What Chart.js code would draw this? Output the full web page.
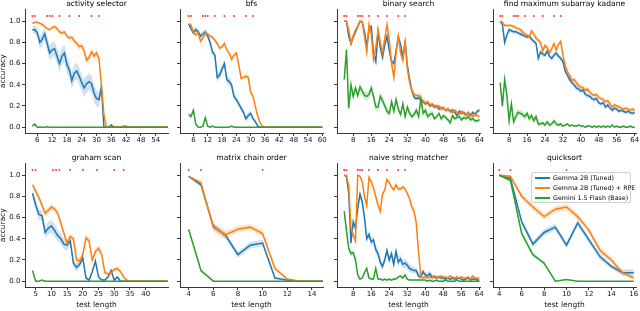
<!DOCTYPE html>
<html><head><meta charset="utf-8">
<script src="https://cdn.jsdelivr.net/npm/chart.js"></script>
<style>
html,body{margin:0;padding:0;background:#fff;}
body{width:640px;height:311px;overflow:hidden;position:relative;}
canvas{position:absolute;}
#legend{position:absolute;left:531px;top:172px;width:98px;height:29px;border:1px solid #d0d0d0;border-radius:2px;background:rgba(255,255,255,0.85);font-family:'DejaVu Sans',sans-serif;font-size:6.3px;color:#000;}
#legend .row{position:absolute;left:2px;height:8px;line-height:8px;white-space:nowrap;}
#legend .sw{position:absolute;left:1px;top:3px;width:15px;height:2px;}
#legend .tx{position:absolute;left:19px;top:0;}
</style></head>
<body>
<script>
// ---------- data ----------
const seriesLabels = ['Gemma 2B (Tuned)', 'Gemma 2B (Tuned) + RPE', 'Gemini 1.5 Flash (Base)'];
const yTicks = [0, 0.2, 0.4, 0.6, 0.8, 1.0];
const trainLengths = [4, 5, 10, 11, 12, 15, 19, 23, 28, 31];
const grahamMarks = [4, 5, 10.5, 11.5, 12.5, 16, 20, 24.5, 30, 33];
const shortMarks = [4, 5, 10];

// activity selector
const asLengths = [4,5,6,7,8,9,10,11,12,13,14,15,16,17,18,19,20,21,22,23,24,25,26,27,28,29,30,31,32,33,34,35,36,37,38,39,40,41,42,43,44,45,46,47,48,49,50,51,52,53,54,55,56,57,58,59];
const asTicks = [6,12,18,24,30,36,42,48,54];
const asBlue = [0.92,0.92,0.89,0.80,0.83,0.88,0.79,0.70,0.73,0.74, 0.67,0.60,0.67,0.70,0.59,0.54,0.44,0.51,0.53,0.48, 0.42,0.37,0.41,0.43,0.41,0.32,0.27,0.26,0.38,0.00, 0,0,0.02,0,0,0,0,0,0,0, 0,0,0,0,0,0,0,0,0,0, 0,0,0,0,0,0];
const asBlueErr = [0.03,0.04,0.05,0.06,0.06,0.06,0.07,0.07,0.07,0.07, 0.07,0.08,0.08,0.08,0.08,0.08,0.08,0.08,0.08,0.08, 0.08,0.08,0.08,0.08,0.08,0.08,0.08,0.07,0.07,0, 0,0,0.01,0,0,0,0,0,0,0, 0,0,0,0,0,0,0,0,0,0, 0,0,0,0,0,0];
const asOrange = [0.98,0.99,0.99,0.98,0.97,0.95,0.93,0.92,0.94,0.95, 0.93,0.90,0.89,0.90,0.86,0.84,0.85,0.81,0.79,0.76, 0.77,0.72,0.63,0.66,0.71,0.67,0.70,0.65,0.40,0.12, 0,0,0,0,0,0,0,0.01,0.01,0, 0,0,0,0,0,0,0,0,0,0, 0,0,0,0,0,0];
const asOrangeErr = [0.01,0.01,0.01,0.015,0.015,0.015,0.015,0.015,0.015,0.02, 0.02,0.02,0.02,0.02,0.02,0.02,0.02,0.03,0.03,0.03, 0.03,0.03,0.03,0.03,0.03,0.03,0.03,0.03,0.03,0.02, 0,0,0,0,0,0,0,0.01,0.01,0, 0,0,0,0,0,0,0,0,0,0, 0,0,0,0,0,0];
const asGreen = [0.01,0.03,0,0,0,0,0.005,0,0,0, 0,0,0,0,0,0,0,0,0,0, 0,0,0,0,0,0,0,0,0,0, 0,0,0,0,0,0,0,0,0,0, 0,0,0,0,0,0,0,0,0,0, 0,0,0,0,0,0];
const asGreenErr = [0.01,0.015,0.005,0,0,0,0,0,0,0, 0,0,0,0,0,0,0,0,0,0, 0,0,0,0,0,0,0,0,0,0, 0,0,0,0,0,0,0,0,0,0, 0,0,0,0,0,0,0,0,0,0, 0,0,0,0,0,0];

// bfs
const bfsLengths = [4,5,6,7,8,9,10,11,12,13,14,15,16,17,18,19,20,21,22,23,24,25,26,27,28,29,30,31,32,33,34,35,36,37,38,39,40,41,42,43,44,45,46,47,48,49,50,51,52,53,54,55,56,57,58,59,60];
const bfsTicks = [6,12,18,24,30,36,42,48,54,60];
const bfsBlue = [0.975,0.93,0.89,0.92,0.90,0.86,0.88,0.90,0.86,0.80, 0.71,0.68,0.47,0.49,0.55,0.60,0.45,0.43,0.40,0.29, 0.26,0.22,0.18,0.14,0.08,0.11,0.13,0.08,0.05,0.01, 0,0,0,0,0,0,0,0,0,0, 0,0,0,0,0,0,0,0,0,0, 0,0,0,0,0,0,0];
const bfsBlueErr = [0.01,0.02,0.03,0.03,0.03,0.03,0.03,0.03,0.03,0.03, 0.03,0.03,0.04,0.04,0.04,0.04,0.04,0.04,0.04,0.03, 0.03,0.03,0.03,0.03,0.03,0.03,0.03,0.02,0.02,0.01, 0,0,0,0,0,0,0,0,0,0, 0,0,0,0,0,0,0,0,0,0, 0,0,0,0,0,0,0];
const bfsOrange = [0.975,0.965,0.90,0.87,0.89,0.81,0.84,0.89,0.88,0.86, 0.85,0.82,0.79,0.745,0.76,0.79,0.73,0.70,0.64,0.68, 0.70,0.59,0.46,0.47,0.48,0.47,0.33,0.29,0.19,0.10, 0.04,0.01,0,0,0,0,0,0,0,0, 0,0,0,0,0,0,0,0,0,0, 0,0,0,0,0,0,0];
const bfsOrangeErr = [0.015,0.015,0.015,0.015,0.015,0.015,0.015,0.015,0.015,0.015, 0.02,0.02,0.02,0.02,0.02,0.02,0.02,0.02,0.02,0.02, 0.02,0.02,0.02,0.02,0.02,0.02,0.02,0.02,0.02,0.02, 0.01,0.01,0,0,0,0,0,0,0,0, 0,0,0,0,0,0,0,0,0,0, 0,0,0,0,0,0,0];
const bfsGreen = [0.12,0.10,0.16,0.03,0,0,0.01,0.09,0.01,0, 0.01,0,0,0,0,0,0,0,0.01,0, 0,0,0,0,0,0,0,0,0,0, 0,0,0,0,0,0,0,0,0,0, 0,0,0,0,0,0,0,0,0,0, 0,0,0,0,0,0,0];
const bfsGreenErr = [0.02,0.02,0.025,0.01,0,0,0.005,0.02,0.005,0, 0,0,0,0,0,0,0,0,0,0, 0,0,0,0,0,0,0,0,0,0, 0,0,0,0,0,0,0,0,0,0, 0,0,0,0,0,0,0,0,0,0, 0,0,0,0,0,0,0];

// shared lengths 4..64
const longLengths = [4,5,6,7,8,9,10,11,12,13,14,15,16,17,18,19,20,21,22,23,24,25,26,27,28,29,30,31,32,33,34,35,36,37,38,39,40,41,42,43,44,45,46,47,48,49,50,51,52,53,54,55,56,57,58,59,60,61,62,63,64];
const longTicks = [8,16,24,32,40,48,56,64];

// binary search
const bsBlue = [1.0,1.0,0.86,0.79,0.85,0.90,0.95,1.0,0.99,0.90, 0.76,0.93,0.95,0.70,0.62,0.90,0.75,0.66,0.78,0.86, 0.72,0.62,0.60,0.72,0.85,0.78,0.66,0.80,0.58,0.45, 0.34,0.28,0.27,0.28,0.25,0.24,0.22,0.23,0.20,0.21, 0.19,0.20,0.17,0.18,0.18,0.16,0.17,0.15,0.16,0.14, 0.11,0.15,0.13,0.14,0.12,0.13,0.11,0.14,0.12,0.15,0.16];
const bsBlueErr = [0.005,0.005,0.03,0.03,0.03,0.02,0.02,0.005,0.01,0.03, 0.03,0.03,0.02,0.03,0.03,0.03,0.03,0.03,0.03,0.03, 0.03,0.03,0.03,0.03,0.03,0.03,0.03,0.03,0.03,0.03, 0.03,0.02,0.02,0.02,0.02,0.02,0.02,0.02,0.02,0.02, 0.02,0.02,0.02,0.02,0.02,0.02,0.02,0.02,0.02,0.02, 0.02,0.02,0.02,0.02,0.02,0.02,0.02,0.02,0.02,0.02,0.02];
const bsOrange = [1.0,1.0,0.92,0.79,0.86,0.92,0.95,1.0,1.0,0.85, 0.71,0.97,0.88,0.64,0.75,0.92,0.80,0.70,0.84,0.97, 0.82,0.60,0.47,0.70,0.86,0.70,0.63,0.82,0.55,0.42, 0.35,0.31,0.30,0.30,0.26,0.25,0.23,0.24,0.21,0.22, 0.20,0.19,0.20,0.17,0.18,0.16,0.17,0.15,0.14,0.16, 0.14,0.12,0.15,0.13,0.11,0.14,0.12,0.10,0.12,0.11,0.10];
const bsOrangeErr = [0.005,0.005,0.02,0.03,0.03,0.02,0.02,0.005,0.005,0.03, 0.03,0.02,0.03,0.03,0.03,0.03,0.03,0.03,0.03,0.02, 0.03,0.03,0.03,0.03,0.03,0.03,0.03,0.03,0.03,0.03, 0.03,0.02,0.02,0.02,0.02,0.02,0.02,0.02,0.02,0.02, 0.02,0.02,0.02,0.02,0.02,0.02,0.02,0.02,0.02,0.02, 0.02,0.02,0.02,0.02,0.02,0.02,0.02,0.02,0.02,0.02,0.02];
const bsGreen = [0.45,0.73,0.18,0.40,0.29,0.37,0.30,0.38,0.34,0.30, 0.29,0.31,0.37,0.29,0.19,0.19,0.29,0.25,0.20,0.15, 0.13,0.24,0.15,0.26,0.17,0.12,0.22,0.10,0.19,0.13, 0.10,0.12,0.16,0.10,0.27,0.13,0.16,0.10,0.12,0.13, 0.08,0.10,0.13,0.08,0.11,0.09,0.07,0.04,0.11,0.08, 0.09,0.10,0.07,0.09,0.08,0.10,0.07,0.08,0.06,0.06,0.07];
const bsGreenErr = [0.04,0.05,0.04,0.04,0.04,0.04,0.04,0.04,0.04,0.04, 0.04,0.04,0.04,0.04,0.04,0.04,0.04,0.04,0.04,0.04, 0.03,0.03,0.03,0.03,0.03,0.03,0.03,0.03,0.03,0.03, 0.03,0.03,0.03,0.03,0.03,0.03,0.03,0.03,0.03,0.03, 0.02,0.02,0.02,0.02,0.02,0.02,0.02,0.02,0.02,0.02, 0.02,0.02,0.02,0.02,0.02,0.02,0.02,0.02,0.02,0.02,0.02];

// find maximum subarray kadane
const kdBlue = [1.0,0.97,0.80,0.87,0.92,0.91,0.90,0.90,0.89,0.88, 0.87,0.86,0.85,0.86,0.83,0.81,0.79,0.65,0.71,0.69, 0.68,0.72,0.67,0.65,0.68,0.70,0.67,0.65,0.62,0.53, 0.49,0.45,0.42,0.40,0.37,0.36,0.34,0.35,0.31,0.30, 0.29,0.27,0.26,0.27,0.23,0.22,0.23,0.19,0.21,0.18, 0.16,0.18,0.17,0.15,0.16,0.15,0.14,0.15,0.14,0.13,0.14];
const kdBlueErr = [0.005,0.01,0.03,0.02,0.02,0.02,0.02,0.02,0.02,0.02, 0.02,0.02,0.02,0.02,0.02,0.02,0.02,0.025,0.025,0.025, 0.025,0.025,0.025,0.025,0.025,0.025,0.025,0.025,0.025,0.025, 0.025,0.025,0.025,0.025,0.025,0.025,0.025,0.025,0.025,0.025, 0.02,0.02,0.02,0.02,0.02,0.02,0.02,0.02,0.02,0.02, 0.02,0.02,0.02,0.02,0.02,0.02,0.02,0.02,0.02,0.02,0.02];
const kdOrange = [1.0,0.99,0.96,0.96,0.96,0.96,0.95,0.94,0.93,0.92, 0.90,0.88,0.87,0.85,0.91,0.88,0.84,0.82,0.80,0.72, 0.77,0.75,0.70,0.74,0.79,0.73,0.78,0.81,0.68,0.58, 0.52,0.49,0.44,0.45,0.42,0.39,0.38,0.37,0.35,0.36, 0.33,0.31,0.30,0.31,0.28,0.27,0.26,0.24,0.25,0.22, 0.19,0.21,0.20,0.19,0.18,0.17,0.18,0.17,0.16,0.17,0.16];
const kdOrangeErr = [0.005,0.01,0.015,0.015,0.015,0.015,0.015,0.015,0.015,0.02, 0.02,0.02,0.02,0.02,0.02,0.02,0.025,0.025,0.025,0.025, 0.025,0.025,0.025,0.025,0.025,0.025,0.025,0.025,0.025,0.025, 0.025,0.025,0.025,0.025,0.025,0.025,0.025,0.025,0.025,0.025, 0.02,0.02,0.02,0.02,0.02,0.02,0.02,0.02,0.02,0.02, 0.02,0.02,0.02,0.02,0.02,0.02,0.02,0.02,0.02,0.02,0.02];
const kdGreen = [0.42,0.20,0.45,0.30,0.06,0.22,0.05,0.10,0.14,0.13, 0.12,0.10,0.13,0.08,0.11,0.06,0.10,0.03,0.03,0.04, 0.02,0.05,0.02,0.03,0.06,0.03,0.02,0.03,0.01,0.02, 0.03,0.01,0.02,0.01,0.01,0.02,0.01,0.01,0.00,0.01, 0.01,0.00,0.01,0.00,0.01,0.00,0.01,0.00,0.01,0.00, 0.02,0.00,0.01,0.00,0.00,0.01,0.00,0.00,0.01,0.00,0.00];
const kdGreenErr = [0.04,0.04,0.04,0.04,0.04,0.04,0.04,0.04,0.03,0.03, 0.03,0.03,0.03,0.03,0.03,0.03,0.03,0.03,0.02,0.02, 0.02,0.02,0.02,0.02,0.02,0.02,0.02,0.02,0.01,0.01, 0.01,0.01,0.01,0.01,0.01,0.01,0.01,0.01,0.01,0.01, 0.01,0.01,0.01,0.01,0.01,0.01,0.01,0.01,0.01,0.01, 0.01,0.01,0.01,0.01,0.01,0.01,0.01,0.01,0.01,0.01,0.01];

// graham scan
const ghLengths = [4,5,6,7,8,9,10,11,12,13,14,15,16,17,18,19,20,21,22,23,24,25,26,27,28,29,30,31,32,33,34,35,36,37,38,39,40,41,42,43,44,45,46,47];
const ghTicks = [5,10,15,20,25,30,35,40];
const ghBlue = [0.83,0.72,0.63,0.62,0.46,0.50,0.52,0.48,0.43,0.40, 0.35,0.34,0.38,0.17,0.13,0.16,0.22,0.03,0.01,0.09, 0.19,0.04,0.01,0.01,0.04,0.10,0.01,0.04,0,0, 0,0,0,0,0,0,0,0,0,0, 0,0,0,0];
const ghBlueErr = [0.04,0.05,0.05,0.05,0.05,0.06,0.06,0.06,0.05,0.05, 0.05,0.05,0.04,0.04,0.04,0.03,0.03,0.02,0.01,0.02, 0.02,0.01,0.01,0.01,0.01,0.02,0.01,0.01,0,0, 0,0,0,0,0,0,0,0,0,0, 0,0,0,0];
const ghOrange = [0.91,0.85,0.79,0.72,0.64,0.67,0.70,0.68,0.64,0.55, 0.45,0.36,0.42,0.40,0.20,0.19,0.25,0.41,0.38,0.20, 0.28,0.31,0.25,0.08,0.07,0.08,0.11,0.12,0.09,0.04, 0.01,0,0,0,0,0,0,0,0,0, 0,0,0,0];
const ghOrangeErr = [0.02,0.03,0.03,0.03,0.03,0.03,0.03,0.03,0.03,0.03, 0.03,0.03,0.03,0.03,0.03,0.03,0.03,0.03,0.03,0.03, 0.03,0.03,0.03,0.02,0.02,0.02,0.02,0.02,0.02,0.01, 0.005,0,0,0,0,0,0,0,0,0, 0,0,0,0];
const ghGreen = [0.10,0,0,0.01,0,0,0,0,0,0, 0,0,0,0,0,0,0,0,0,0, 0,0,0,0,0,0,0,0,0,0, 0,0,0,0,0,0,0,0,0,0, 0,0,0,0];
const ghGreenErr = [0.015,0.005,0,0.005,0,0,0,0,0,0, 0,0,0,0,0,0,0,0,0,0, 0,0,0,0,0,0,0,0,0,0, 0,0,0,0,0,0,0,0,0,0, 0,0,0,0];

// matrix chain order
const mcLengths = [4,5,6,7,8,9,10,11,12,13,14,15];
const mcTicks = [4,6,8,10,12,14];
const mcBlue = [0.99,0.91,0.52,0.43,0.25,0.34,0.36,0.03,0.01,0,0,0];
const mcBlueErr = [0.01,0.02,0.03,0.03,0.03,0.03,0.03,0.01,0.01,0,0,0];
const mcOrange = [0.99,0.93,0.51,0.44,0.49,0.51,0.45,0.12,0.02,0,0,0];
const mcOrangeErr = [0.01,0.02,0.04,0.04,0.03,0.03,0.03,0.02,0.01,0,0,0];
const mcGreen = [0.49,0.10,0,0,0,0,0,0,0,0,0,0];
const mcGreenErr = [0.02,0.02,0,0,0,0,0,0,0,0,0,0];

// naive string matcher
const nsBlue = [1.0,0.99,0.83,0.36,0.56,0.50,0.69,0.82,0.75,0.60, 0.40,0.44,0.37,0.39,0.30,0.26,0.18,0.14,0.20,0.29, 0.20,0.26,0.16,0.28,0.18,0.21,0.16,0.17,0.15,0.12, 0.11,0.10,0.10,0.05,0.04,0.09,0.06,0.05,0.07,0.04, 0.04,0.03,0.04,0.03,0.03,0.02,0.03,0.02,0.03,0.02, 0.02,0.03,0.02,0.01,0.02,0.03,0.01,0.02,0.02,0.01,0.01];
const nsBlueErr = [0.005,0.01,0.03,0.04,0.04,0.04,0.04,0.04,0.04,0.04, 0.04,0.04,0.04,0.04,0.04,0.04,0.04,0.04,0.04,0.04, 0.04,0.04,0.04,0.04,0.04,0.04,0.04,0.04,0.04,0.04, 0.03,0.03,0.03,0.03,0.03,0.03,0.03,0.03,0.03,0.03, 0.02,0.02,0.02,0.02,0.02,0.02,0.02,0.02,0.02,0.02, 0.01,0.01,0.01,0.01,0.01,0.01,0.01,0.01,0.01,0.01,0.01];
const nsOrange = [1.0,1.0,0.90,0.50,0.44,0.38,1.0,0.99,0.94,0.80, 0.71,0.98,0.94,0.88,0.80,0.72,0.66,0.82,0.86,0.96, 0.93,0.89,0.86,0.91,0.87,0.87,0.89,0.87,0.83,0.78, 0.70,0.66,0.55,0.28,0.05,0.03,0.04,0.03,0.04,0.03, 0.05,0.04,0.03,0.05,0.04,0.04,0.03,0.05,0.04,0.03, 0.04,0.03,0.04,0.03,0.03,0.04,0.02,0.05,0.03,0.03,0.03];
const nsOrangeErr = [0.005,0.005,0.02,0.04,0.04,0.04,0.01,0.01,0.02,0.03, 0.03,0.02,0.02,0.02,0.03,0.03,0.03,0.03,0.02,0.02, 0.02,0.02,0.02,0.02,0.02,0.02,0.02,0.02,0.02,0.02, 0.03,0.03,0.03,0.03,0.01,0.01,0.01,0.01,0.01,0.01, 0.01,0.01,0.01,0.01,0.01,0.01,0.01,0.01,0.01,0.01, 0.01,0.01,0.01,0.01,0.01,0.01,0.01,0.01,0.01,0.01,0.01];
const nsGreen = [0.66,0.48,0.31,0.26,0.27,0.20,0.06,0.02,0.03,0.08, 0.12,0.03,0.02,0.02,0.12,0.02,0.02,0.01,0.02,0.01, 0.02,0.01,0.02,0.02,0.04,0.05,0.03,0.06,0.02,0.01, 0.01,0.01,0.01,0.01,0.01,0.01,0.01,0.00,0.01,0.00, 0.00,0.01,0.00,0.00,0.00,0.01,0.00,0.00,0.00,0.00, 0.01,0.00,0.00,0.00,0.00,0.00,0.00,0.00,0.00,0.00,0.00];
const nsGreenErr = [0.04,0.04,0.03,0.03,0.03,0.03,0.02,0.01,0.01,0.02, 0.02,0.01,0.01,0.01,0.02,0.01,0.01,0.01,0.01,0.01, 0.01,0.01,0.01,0.01,0.01,0.01,0.01,0.01,0.01,0.01, 0.005,0.005,0.005,0.005,0.005,0.005,0.005,0.005,0.005,0.005, 0,0,0,0,0,0,0,0,0,0, 0,0,0,0,0,0,0,0,0,0,0];

// quicksort
const qsLengths = [4,5,6,7,8,9,10,11,12,13,14,15,16];
const qsTicks = [4,6,8,10,12,14,16];
const qsBlue = [1.0,0.97,0.56,0.35,0.46,0.51,0.34,0.55,0.39,0.23,0.14,0.08,0.08];
const qsBlueErr = [0.005,0.01,0.03,0.03,0.03,0.03,0.03,0.03,0.03,0.03,0.02,0.03,0.03];
const qsOrange = [1.0,0.99,0.80,0.70,0.61,0.68,0.70,0.61,0.48,0.29,0.20,0.08,0.03];
const qsOrangeErr = [0.005,0.01,0.03,0.03,0.03,0.03,0.03,0.03,0.03,0.03,0.03,0.02,0.02];
const qsGreen = [1.0,0.95,0.45,0.25,0.17,0.0,0.015,0,0,0,0,0,0];
const qsGreenErr = [0.005,0.01,0.03,0.02,0.02,0.005,0.005,0,0,0,0,0,0];

// ---------- styling / layout ----------
const FONT = "'DejaVu Sans', sans-serif";
const COLORS = ['#1f77b4', '#ff7f0e', '#2ca02c'];
const FILLS = ['rgba(31,119,180,0.22)', 'rgba(255,127,14,0.22)', 'rgba(44,160,44,0.22)'];
const MARK_Y = 1.05;
const colL = [25, 180, 337, 493];
const rowT = [10, 164];
const PW = 143, PH = 123, YW = 26, TH = 10, PADR = 10;
const XH = [14, 23];

const panels = [
  {title:'activity selector', row:0, col:0, xs:asLengths, s:[asBlue,asOrange,asGreen], e:[asBlueErr,asOrangeErr,asGreenErr], xmin:1.0, xmax:59, ticks:asTicks, marks:trainLengths},
  {title:'bfs', row:0, col:1, xs:bfsLengths, s:[bfsBlue,bfsOrange,bfsGreen], e:[bfsBlueErr,bfsOrangeErr,bfsGreenErr], xmin:0.4, xmax:60.3, ticks:bfsTicks, marks:trainLengths},
  {title:'binary search', row:0, col:2, xs:longLengths, s:[bsBlue,bsOrange,bsGreen], e:[bsBlueErr,bsOrangeErr,bsGreenErr], xmin:0.8, xmax:64.2, ticks:longTicks, marks:trainLengths},
  {title:'find maximum subarray kadane', row:0, col:3, xs:longLengths, s:[kdBlue,kdOrange,kdGreen], e:[kdBlueErr,kdOrangeErr,kdGreenErr], xmin:0.8, xmax:64.6, ticks:longTicks, marks:trainLengths},
  {title:'graham scan', row:1, col:0, xs:ghLengths, s:[ghBlue,ghOrange,ghGreen], e:[ghBlueErr,ghOrangeErr,ghGreenErr], xmin:1.6, xmax:47.1, ticks:ghTicks, marks:grahamMarks},
  {title:'matrix chain order', row:1, col:1, xs:mcLengths, s:[mcBlue,mcOrange,mcGreen], e:[mcBlueErr,mcOrangeErr,mcGreenErr], xmin:3.3, xmax:14.9, ticks:mcTicks, marks:shortMarks},
  {title:'naive string matcher', row:1, col:2, xs:longLengths, s:[nsBlue,nsOrange,nsGreen], e:[nsBlueErr,nsOrangeErr,nsGreenErr], xmin:0.8, xmax:64.3, ticks:longTicks, marks:trainLengths},
  {title:'quicksort', row:1, col:3, xs:qsLengths, s:[qsBlue,qsOrange,qsGreen], e:[qsBlueErr,qsOrangeErr,qsGreenErr], xmin:3.44, xmax:16.2, ticks:qsTicks, marks:shortMarks}
];

function pts(xs, ys) { return xs.map((x, i) => ({x: x, y: ys[i]})); }
function seriesSets(xs, ys, es, k) {
  return [
    {label: seriesLabels[k], data: pts(xs, ys), borderColor: COLORS[k], borderWidth: 1.5, pointRadius: 0, fill: false, tension: 0},
    {data: xs.map((x, i) => ({x: x, y: ys[i] + es[i]})), borderColor: 'transparent', borderWidth: 0, pointRadius: 0, backgroundColor: FILLS[k], fill: '+1'},
    {data: xs.map((x, i) => ({x: x, y: ys[i] - es[i]})), borderColor: 'transparent', borderWidth: 0, pointRadius: 0, fill: false}
  ];
}
function zeroPad(s) { s.paddingLeft = 0; s.paddingRight = 0; s.paddingTop = 0; s.paddingBottom = 0; }

panels.forEach(p => {
  const L = colL[p.col], T = rowT[p.row], xH = XH[p.row];
  const W = YW + PW + PADR, H = TH + PH + xH;
  const cv = document.createElement('canvas');
  cv.width = W; cv.height = H;
  cv.style.left = (L - YW) + 'px'; cv.style.top = (T - TH) + 'px';
  cv.style.width = W + 'px'; cv.style.height = H + 'px';
  document.body.appendChild(cv);

  const marks = {data: p.marks.map(x => ({x: x, y: MARK_Y})), showLine: false, pointRadius: 1.1, pointStyle: 'rect', pointBackgroundColor: '#ff0000', pointBorderWidth: 0, borderColor: 'transparent', fill: false};
  const datasets = [marks].concat(seriesSets(p.xs, p.s[2], p.e[2], 2), seriesSets(p.xs, p.s[1], p.e[1], 1), seriesSets(p.xs, p.s[0], p.e[0], 0));

  new Chart(cv, {
    type: 'line',
    data: {datasets: datasets},
    options: {
      responsive: false, animation: false, devicePixelRatio: 1, events: [],
      layout: {autoPadding: false, padding: {left: 0, top: 0, right: PADR, bottom: 0}},
      plugins: {
        legend: {display: false}, tooltip: {enabled: false},
        title: {display: true, fullSize: false, text: p.title, color: '#000', font: {family: FONT, size: 7.6, weight: 'normal', lineHeight: 1}, padding: {top: 0, bottom: 2}}
      },
      scales: {
        x: {
          type: 'linear', min: p.xmin, max: p.xmax,
          afterBuildTicks: s => { s.ticks = p.ticks.map(v => ({value: v})); },
          afterFit: s => { s.height = xH; zeroPad(s); },
          grid: {display: true, drawOnChartArea: false, drawTicks: true, tickLength: 3, tickColor: '#222', tickWidth: 0.9},
          border: {display: true, color: '#222', width: 0.9},
          ticks: {color: '#111', font: {family: FONT, size: 7}, padding: 0, maxRotation: 0, minRotation: 0, autoSkip: false},
          title: {display: p.row === 1, text: 'test length', color: '#111', font: {family: FONT, size: 7.5, lineHeight: 1.2}, padding: 0}
        },
        y: {
          type: 'linear', min: -0.055, max: 1.11,
          afterBuildTicks: s => { s.ticks = yTicks.map(v => ({value: v})); },
          afterFit: s => { s.width = YW; zeroPad(s); },
          grid: {display: true, drawOnChartArea: false, drawTicks: true, tickLength: 3, tickColor: '#222', tickWidth: 0.9},
          border: {display: true, color: '#222', width: 0.9},
          ticks: {color: '#111', font: {family: FONT, size: 7}, padding: 1.5, autoSkip: false, callback: v => p.col === 0 ? Number(v).toFixed(1) : ''},
          title: {display: p.col === 0, text: 'accuracy', color: '#111', font: {family: FONT, size: 7.5, lineHeight: 1.2}, padding: 0}
        }
      }
    }
  });
});

// legend (quicksort panel)
const lg = document.createElement('div');
lg.id = 'legend';
seriesLabels.forEach((t, k) => {
  const r = document.createElement('div');
  r.className = 'row';
  r.style.top = (1 + k * 10) + 'px';
  r.innerHTML = '<span class="sw" style="background:' + COLORS[k] + '"></span><span class="tx"></span>';
  r.querySelector('.tx').textContent = t;
  lg.appendChild(r);
});
document.body.appendChild(lg);
</script>
</body></html>
